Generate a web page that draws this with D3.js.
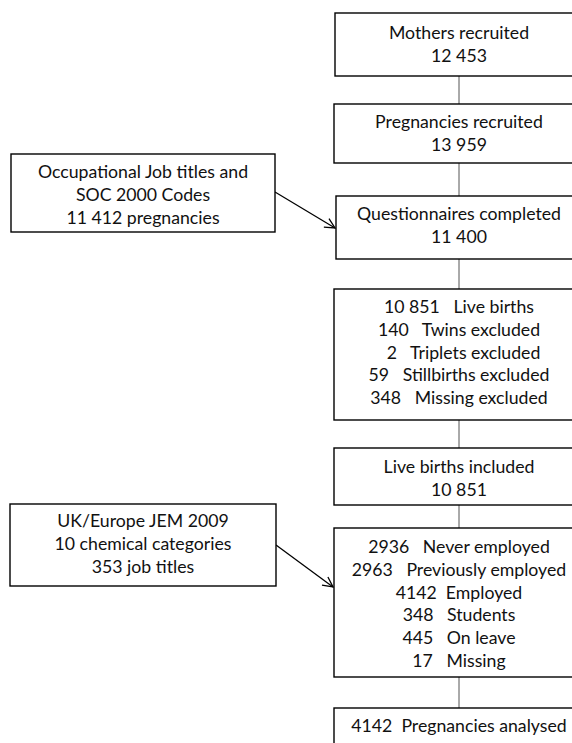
<!DOCTYPE html>
<html>
<head>
<meta charset="utf-8">
<script src="https://cdn.jsdelivr.net/npm/d3@7/dist/d3.min.js"></script>
<style>
  html, body { margin: 0; padding: 0; background: #fff; }
  svg { display: block; }
  text { font-family: Lato, "Open Sans", sans-serif; font-size: 17.7px; fill: #111; white-space: pre; }
</style>
</head>
<body>
<svg id="chart" width="572" height="743"></svg>
<script>
// ---- data ----
const mothersBox = ["Mothers recruited", "12 453"];
const pregnanciesBox = ["Pregnancies recruited", "13 959"];
const questionnairesBox = ["Questionnaires completed", "11 400"];
const birthCounts = ["10 851", "140", "2", "59", "348"];
const birthLabels = ["Live births", "Twins excluded", "Triplets excluded", "Stillbirths excluded", "Missing excluded"];
const includedBox = ["Live births included", "10 851"];
const employmentCounts = ["2936", "2963", "4142", "348", "445", "17"];
const employmentLabels = ["Never employed", "Previously employed", "Employed", "Students", "On leave", "Missing"];
const analysedBox = ["4142  Pregnancies analysed"];
const jobTitlesBox = ["Occupational Job titles and", "SOC 2000 Codes", "11 412 pregnancies"];
const jemBox = ["UK/Europe JEM 2009", "10 chemical categories", "353 job titles"];

const svg = d3.select("#chart");
const lineH = 22.8;

// merge counts & labels
const birthLines = birthCounts.map((c, i) => (c === "2" ? "  " : "") + c + "   " + birthLabels[i]);
const employmentLines = employmentCounts.map((c, i) => c + (c === "4142" ? "  " : "   ") + employmentLabels[i]);

// main column boxes
const mainCx = 459;
const boxes = [
  { id: "b1", x: 335, y0: 13, y1: 76, base: 39, lines: mothersBox },
  { id: "b2", x: 334, y0: 104, y1: 163, base: 128, lines: pregnanciesBox },
  { id: "b3", x: 336, y0: 196, y1: 259, base: 220, lines: questionnairesBox },
  { id: "b4", x: 334, y0: 289, y1: 420, base: 313, lines: birthLines },
  { id: "b5", x: 334, y0: 448, y1: 505, base: 473, lines: includedBox },
  { id: "b6", x: 334, y0: 528, y1: 677, base: 553, lines: employmentLines },
  { id: "b7", x: 334, y0: 708, y1: 770, base: 732, lines: analysedBox }
];
boxes.forEach(b => { b.x1 = 2 * mainCx - b.x; b.cx = mainCx; });

const sideBoxes = [
  { id: "l1", x: 11, x1: 275, y0: 154, y1: 232, base: 178, lines: jobTitlesBox },
  { id: "l2", x: 10, x1: 276, y0: 504, y1: 586, base: 527, lines: jemBox }
];
sideBoxes.forEach(b => { b.cx = (b.x + b.x1) / 2; });

// connectors between main boxes
const connectors = d3.pairs(boxes);
svg.append("g").selectAll("line").data(connectors).join("line")
  .attr("x1", mainCx).attr("x2", mainCx)
  .attr("y1", d => d[0].y1).attr("y2", d => d[1].y0)
  .attr("stroke", "#555").attr("stroke-width", 1);

// arrow marker
svg.append("defs").append("marker")
  .attr("id", "arr").attr("viewBox", "0 0 12 12")
  .attr("refX", 11).attr("refY", 6)
  .attr("markerWidth", 12).attr("markerHeight", 12)
  .attr("markerUnits", "userSpaceOnUse")
  .attr("orient", "auto")
  .append("path").attr("d", "M1,1 L11,6 L1,11")
  .attr("fill", "none").attr("stroke", "#000").attr("stroke-width", 1.3);

const arrows = [
  { x1: 275, y1: 192, x2: 335, y2: 228 },
  { x1: 276, y1: 545, x2: 333, y2: 587 }
];
svg.append("g").selectAll("line").data(arrows).join("line")
  .attr("x1", d => d.x1).attr("y1", d => d.y1)
  .attr("x2", d => d.x2).attr("y2", d => d.y2)
  .attr("stroke", "#000").attr("stroke-width", 1.3)
  .attr("marker-end", "url(#arr)");

// boxes
const all = boxes.concat(sideBoxes);
const g = svg.append("g").selectAll("g").data(all).join("g");
g.append("rect")
  .attr("x", d => d.x).attr("y", d => d.y0)
  .attr("width", d => d.x1 - d.x).attr("height", d => d.y1 - d.y0)
  .attr("fill", "#fff").attr("stroke", "#000").attr("stroke-width", 1.4);
g.each(function(d) {
  const y = d3.scaleLinear().domain([0, 1]).range([d.base, d.base + lineH]);
  d3.select(this).selectAll("text").data(d.lines).join("text")
    .attr("x", d.cx).attr("y", (t, i) => y(i))
    .attr("text-anchor", "middle")
    .attr("xml:space", "preserve")
    .text(t => t);
});
</script>
</body>
</html>
